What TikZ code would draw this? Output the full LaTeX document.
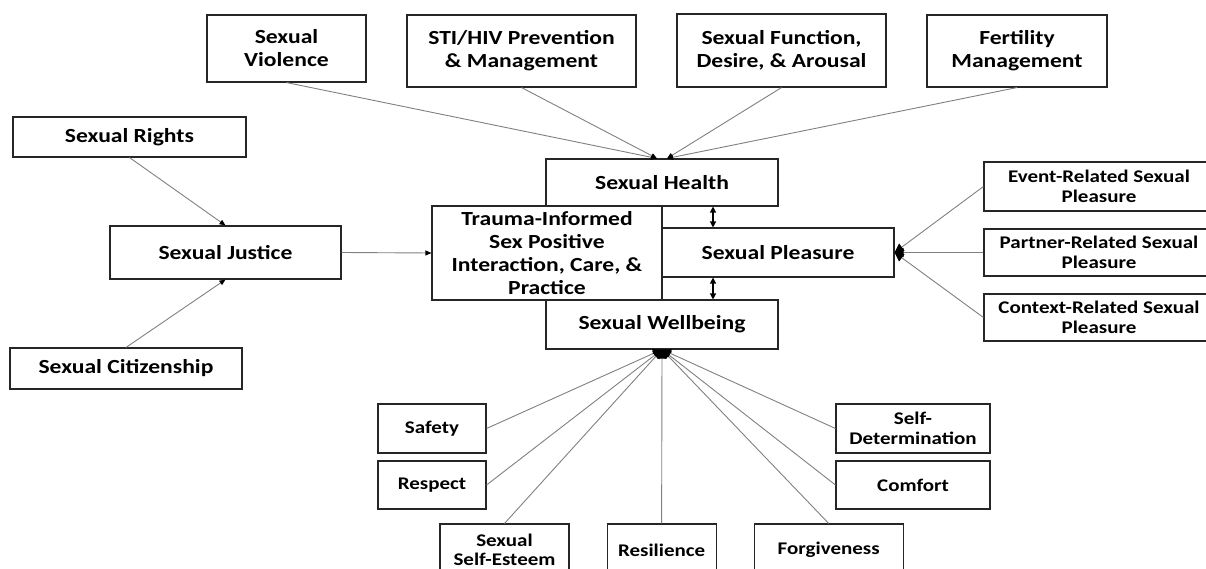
\documentclass[tikz,border=0pt]{standalone}
\usepackage{fontspec}
\setmainfont{Carlito}[FakeStretch=1.18]
\usetikzlibrary{positioning,arrows.meta}

\begin{document}
\begin{tikzpicture}[
    x=1pt, y=-1pt,
    node distance=56.5pt,
    box/.style={rectangle, draw=black!85, line width=1.1pt, fill=white, align=center, inner sep=1pt, font=\bfseries\fontsize{20}{23}\selectfont},
    smallbox/.style={box, font=\bfseries\fontsize{17.8}{19.5}\selectfont},
    link/.style={draw=black!50, line width=0.9pt},
    arrow/.style={link, -{Triangle[black, length=6pt, width=5pt]}},
    hubarrow/.style={link, -{Triangle[black, length=9pt, width=9pt]}},
    twoway/.style={black, line width=1.2pt, {Triangle[length=6pt, width=6pt]}-{Triangle[length=6pt, width=6pt]}}
]
\useasboundingbox (0,0) rectangle (1206,569);
\clip (0,0) rectangle (1206,569);

% top row
\node[box, minimum width=159pt, minimum height=67pt] (violence) at (286.5,48.5) {Sexual\\Violence};
\node[box, minimum width=229pt, minimum height=72pt] (sti) at (521.5,51) {STI/HIV Prevention\\\& Management};
\node[box, minimum width=209pt, minimum height=73pt] (function) at (781.5,50.5) {Sexual Function,\\Desire, \& Arousal};
\node[box, minimum width=180pt, minimum height=72pt] (fertility) at (1017,51) {Fertility\\Management};

% left column
\node[box, minimum width=233pt, minimum height=40pt] (rights) at (129.5,137) {Sexual Rights};
\node[box, minimum width=231pt, minimum height=53pt] (justice) at (225.5,252.5) {Sexual Justice};
\node[box, minimum width=232pt, minimum height=41pt] (citizen) at (126,368.5) {Sexual Citizenship};

% centre block
\node[box, minimum width=232pt, minimum height=47pt] (health) at (662,182.5) {Sexual Health};
\node[box, minimum width=232pt, minimum height=49pt] (wellbeing) at (662,324.5) {Sexual Wellbeing};
\node[box, minimum width=232pt, minimum height=49pt] (pleasure) at (778,252.5) {Sexual Pleasure};
\node[box, minimum width=230pt, minimum height=94pt] (trauma) at (547,253) {Trauma-Informed\\Sex Positive\\Interaction, Care, \&\\Practice};

% pleasure facets
\node[smallbox, minimum width=230pt, minimum height=49pt] (event) at (1099,186.5) {Event-Related Sexual\\Pleasure};
\node[smallbox, minimum width=230pt, minimum height=47pt, node distance=66pt, below of=event] (partner) {Partner-Related Sexual\\Pleasure};
\node[smallbox, minimum width=230pt, minimum height=47pt, node distance=65pt, below of=partner] (context) {Context-Related Sexual\\Pleasure};

% wellbeing facets
\node[smallbox, minimum width=108pt, minimum height=49pt] (safety) at (432,428.5) {Safety};
\node[smallbox, minimum width=108pt, minimum height=48pt, below of=safety] (respect) {Respect};
\node[smallbox, minimum width=154pt, minimum height=49pt] (selfdet) at (913,428.5) {Self-\\Determination};
\node[smallbox, minimum width=154pt, minimum height=48pt, below of=selfdet] (comfort) {Comfort};
\node[smallbox, minimum width=129pt, minimum height=52pt] (esteem) at (504.5,550) {Sexual\\Self-Esteem};
\node[smallbox, minimum width=109pt, minimum height=52pt, right=37pt of esteem] (resilience) {Resilience};
\node[smallbox, minimum width=149pt, minimum height=52pt, right=37pt of resilience] (forgive) {Forgiveness};

% into sexual health
\draw[arrow] (violence.south) -- ([xshift=-5pt]health.north);
\draw[arrow] (sti.south) -- ([xshift=-5pt]health.north);
\draw[arrow] (function.south) -- ([xshift=5pt]health.north);
\draw[arrow] (fertility.south) -- ([xshift=5pt]health.north);

% justice
\draw[arrow] (rights.south) -- (justice.north);
\draw[arrow] (citizen.north) -- (justice.south);
\draw[arrow] (justice.east) -- (trauma.west);

% two-way links
\draw[twoway] ([xshift=51pt]health.south) -- ([xshift=-65pt]pleasure.north);
\draw[twoway] ([xshift=-65pt]pleasure.south) -- ([xshift=51pt]wellbeing.north);

% pleasure hub
\draw[hubarrow] (event.west) -- (pleasure.east);
\draw[hubarrow] (partner.west) -- (pleasure.east);
\draw[hubarrow] (context.west) -- (pleasure.east);

% wellbeing hub
\draw[hubarrow] (safety.east) -- (wellbeing.south);
\draw[hubarrow] (respect.east) -- (wellbeing.south);
\draw[hubarrow] (esteem.north) -- (wellbeing.south);
\draw[hubarrow] (resilience.north) -- (wellbeing.south);
\draw[hubarrow] (forgive.north) -- (wellbeing.south);
\draw[hubarrow] (comfort.west) -- (wellbeing.south);
\draw[hubarrow] (selfdet.west) -- (wellbeing.south);
\end{tikzpicture}
\end{document}
